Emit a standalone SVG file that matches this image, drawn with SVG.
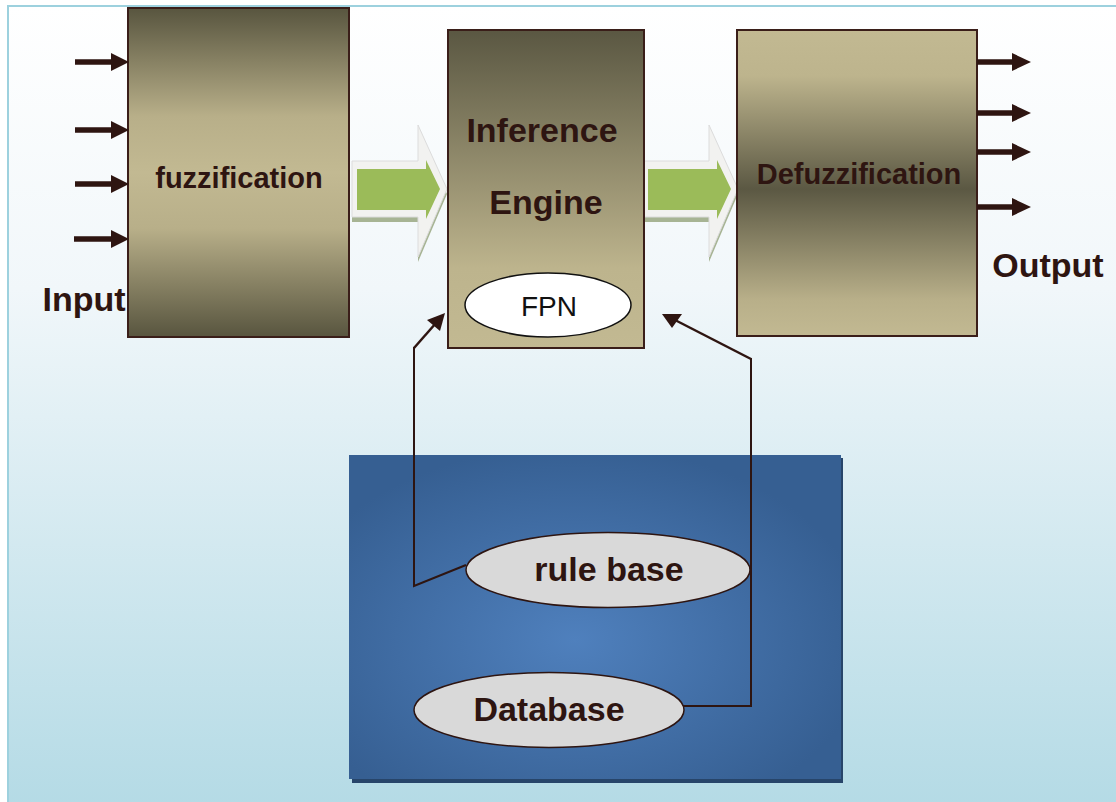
<svg xmlns="http://www.w3.org/2000/svg" width="1116" height="802" viewBox="0 0 1116 802">
  <defs>
    <linearGradient id="bg" x1="0" y1="0" x2="0" y2="1">
      <stop offset="0" stop-color="#ffffff"/>
      <stop offset="0.35" stop-color="#f1f7fa"/>
      <stop offset="1" stop-color="#b3dae5"/>
    </linearGradient>
    <linearGradient id="gFuzz" x1="0" y1="0" x2="0" y2="1">
      <stop offset="0" stop-color="#58553f"/>
      <stop offset="0.33" stop-color="#b8af89"/>
      <stop offset="0.5" stop-color="#c2b992"/>
      <stop offset="0.67" stop-color="#b8af89"/>
      <stop offset="1" stop-color="#58553f"/>
    </linearGradient>
    <linearGradient id="gInf" x1="0" y1="0" x2="0" y2="1">
      <stop offset="0" stop-color="#5a5742"/>
      <stop offset="0.75" stop-color="#bdb48d"/>
      <stop offset="1" stop-color="#c2b992"/>
    </linearGradient>
    <linearGradient id="gDefuzz" x1="0" y1="0" x2="0" y2="1">
      <stop offset="0" stop-color="#c2b992"/>
      <stop offset="0.15" stop-color="#bdb48d"/>
      <stop offset="0.52" stop-color="#5b5843"/>
      <stop offset="0.88" stop-color="#b8af89"/>
      <stop offset="1" stop-color="#c2b992"/>
    </linearGradient>
    <radialGradient id="gBlue" cx="0.46" cy="0.57" r="0.6">
      <stop offset="0" stop-color="#4f80bd"/>
      <stop offset="1" stop-color="#365f92"/>
    </radialGradient>
    <g id="fatArrow">
      <!-- bevelled block arrow: shadow, light rim, green face -->
      <polygon points="352,166 418,166 418,130 447,194 418,262 418,222 352,222" fill="#a7b494"/>
      <polygon points="352,161 418,161 418,125 447,189 418,257 418,217 352,217" fill="#f2f2f0" stroke="#dcdcdc" stroke-width="1"/>
      <polygon points="357,169 426,169 426,160 440,189 426,219 426,210 357,210" fill="#9bbb59"/>
    </g>
  </defs>
  <style>
    .box { stroke: #3a1e19; stroke-width: 2; }
    .lbl { font-family: "Liberation Sans", Arial, sans-serif; font-weight: bold; fill: #2e1511; text-anchor: middle; }
    .io { stroke: #2e1511; stroke-width: 5.5; fill: none; }
    .iohead { fill: #2e1511; }
    .fb { stroke: #2e1511; fill: none; }
    .oval { fill: #d9d9d9; stroke: #2e1511; stroke-width: 1.5; }
  </style>

  <!-- frame -->
  <rect x="0" y="0" width="1116" height="802" fill="#ffffff"/>
  <rect x="8" y="6" width="1120" height="810" fill="url(#bg)" stroke="#9dd1de" stroke-width="2"/>

  <!-- knowledge base panel -->
  <g id="knowledge-base">
    <rect x="352" y="458" width="491" height="325" fill="#27456a"/>
    <rect x="349" y="455" width="492" height="324" fill="url(#gBlue)"/>
  </g>

  <!-- block arrows between stages -->
  <g id="flow-arrows">
    <use href="#fatArrow"/>
    <use href="#fatArrow" transform="translate(291,0)"/>
  </g>

  <g id="fuzzification">
    <rect class="box" x="128" y="8" width="221" height="329" fill="url(#gFuzz)"/>
    <text class="lbl" x="239" y="188" font-size="29">fuzzification</text>
  </g>

  <g id="inference-engine">
    <rect class="box" x="448" y="30" width="196" height="318" fill="url(#gInf)"/>
    <text class="lbl" x="542" y="142" font-size="34">Inference</text>
    <text class="lbl" x="546" y="214" font-size="34">Engine</text>
  </g>

  <g id="fpn">
    <ellipse cx="548" cy="305" rx="83" ry="32" fill="#ffffff" stroke="#111111" stroke-width="1.5"/>
    <text x="549" y="316" font-family="'Liberation Sans', Arial, sans-serif" font-size="28" fill="#111111" text-anchor="middle">FPN</text>
  </g>

  <g id="defuzzification">
    <rect class="box" x="737" y="30" width="240" height="306" fill="url(#gDefuzz)"/>
    <text class="lbl" x="859" y="184" font-size="29">Defuzzification</text>
  </g>

  <g id="rule-base">
    <ellipse class="oval" cx="608" cy="570" rx="142" ry="37.5"/>
    <text class="lbl" x="609" y="581" font-size="34">rule base</text>
  </g>

  <g id="database">
    <ellipse class="oval" cx="549" cy="710" rx="135" ry="37.5"/>
    <text class="lbl" x="549" y="721" font-size="34">Database</text>
  </g>

  <g id="input-label"><text class="lbl" x="84" y="311" font-size="34">Input</text></g>
  <g id="output-label"><text class="lbl" x="1048" y="277" font-size="34">Output</text></g>

  <g id="connectors">
    <!-- inputs -->
    <g>
      <line class="io" x1="75" y1="62" x2="114" y2="62"/>
      <polygon class="iohead" points="111,53 129,62 111,71"/>
      <line class="io" x1="75" y1="130" x2="114" y2="130"/>
      <polygon class="iohead" points="111,121 129,130 111,139"/>
      <line class="io" x1="75" y1="184" x2="114" y2="184"/>
      <polygon class="iohead" points="111,175 129,184 111,193"/>
      <line class="io" x1="74" y1="239" x2="114" y2="239"/>
      <polygon class="iohead" points="111,230 129,239 111,248"/>
    </g>
    <!-- outputs -->
    <g>
      <line class="io" x1="977" y1="62" x2="1015" y2="62"/>
      <polygon class="iohead" points="1012,53 1031,62 1012,71"/>
      <line class="io" x1="977" y1="113" x2="1015" y2="113"/>
      <polygon class="iohead" points="1012,104 1031,113 1012,122"/>
      <line class="io" x1="977" y1="152" x2="1015" y2="152"/>
      <polygon class="iohead" points="1012,143 1031,152 1012,161"/>
      <line class="io" x1="977" y1="207" x2="1015" y2="207"/>
      <polygon class="iohead" points="1012,198 1031,207 1012,216"/>
    </g>
    <!-- rule base to inference engine -->
    <polyline class="fb" stroke-width="2" points="466,565 414,586 414,347"/>
    <line class="fb" stroke-width="2.5" x1="414" y1="348" x2="436" y2="323"/>
    <polygon class="iohead" points="445,313 440,331 427,320"/>
    <!-- database to inference engine -->
    <polyline class="fb" stroke-width="2" points="683,706 751,706 751,358"/>
    <line class="fb" stroke-width="2.5" x1="751" y1="359" x2="675" y2="320"/>
    <polygon class="iohead" points="662,314 682,314 672,328"/>
  </g>
</svg>
